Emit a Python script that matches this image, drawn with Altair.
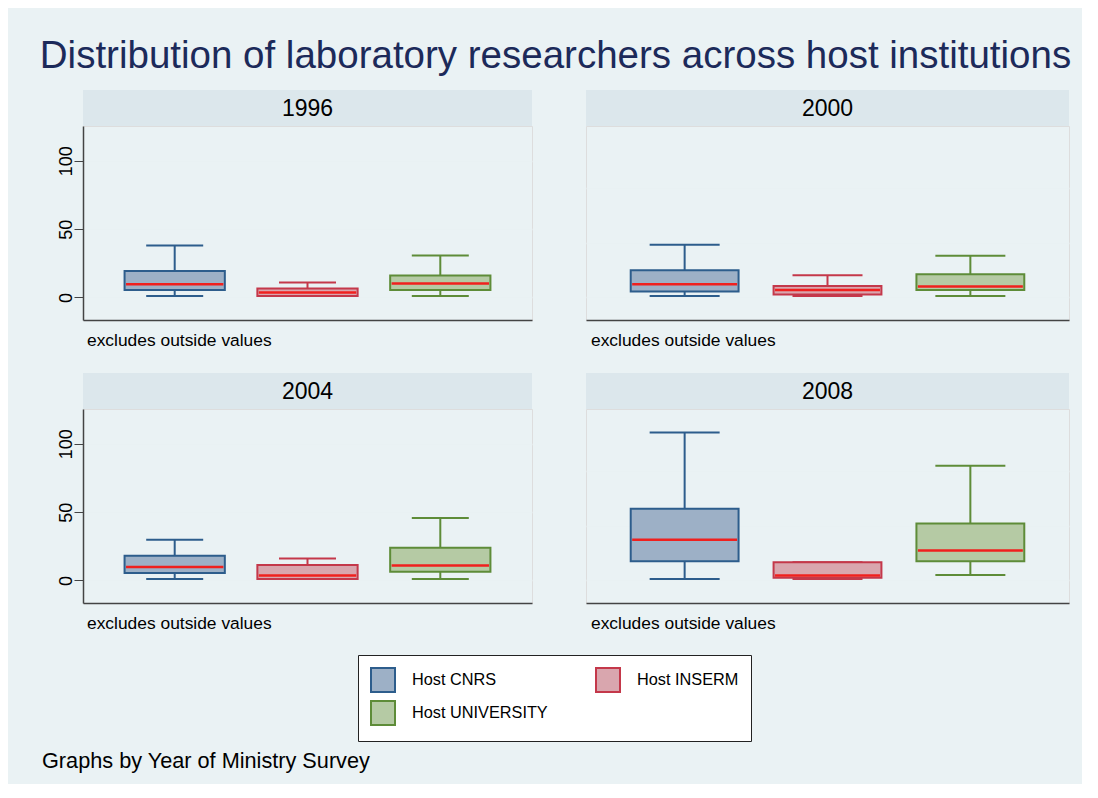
import altair as alt
import pandas as pd

years = ["1996", "2000", "2004", "2008"]
institutions = ["Host CNRS", "Host INSERM", "Host UNIVERSITY"]
# legend reading order (laid out column by column in two columns)
legend_order = ["Host CNRS", "Host UNIVERSITY", "Host INSERM"]

# box-plot statistics, one list per year (CNRS, INSERM, UNIVERSITY)
lower_whisker = {"1996": [1, 1, 1], "2000": [1, 1, 1], "2004": [1, 1, 1], "2008": [1, 1, 4]}
quartile1 = {"1996": [5.4, 1, 5.4], "2000": [4.4, 2.2, 5.4], "2004": [5.4, 1, 6.4], "2008": [14, 2, 14]}
medians = {"1996": [9.6, 3.7, 10.3], "2000": [9.6, 5.4, 8.1], "2004": [9.8, 3.7, 11], "2008": [29.8, 3.7, 22]}
quartile3 = {"1996": [19.4, 6.6, 16], "2000": [20, 8.3, 17], "2004": [18, 11.3, 23.9], "2008": [52.4, 13.3, 41.6]}
upper_whisker = {"1996": [38, 11, 30.7], "2000": [38.6, 16.2, 30.5], "2004": [29.8, 16, 45.8], "2008": [108.3, 13.3, 84]}

left_ticks = [0, 50, 100]
right_grid = [0, 20, 40, 60, 80, 100]
y_domain = [-16.5, 125.5]

TITLE = "Distribution of laboratory researchers across host institutions"
NOTE = "excludes outside values"
FOOT = "Graphs by Year of Ministry Survey"

FILL_OF = {"Host CNRS": "#9DB0C6", "Host INSERM": "#D9A6AE", "Host UNIVERSITY": "#B5CAA4"}
STROKE_OF = {"Host CNRS": "#2D5D8C", "Host INSERM": "#C4384A", "Host UNIVERSITY": "#5E8C38"}
RED = "#F0201E"
BG = "#EAF2F4"
HEAD = "#DCE7EC"
GRID = "#E9F1F3"
AX = "#444444"
FONT = "Liberation Sans"

W_L, W_R, H = 449, 483, 194
HEAD_H = 36

LEG = alt.Legend(
    title=None, orient="none", legendX=275, legendY=529, columns=2,
    symbolType="square", symbolSize=576, symbolStrokeWidth=2, symbolOpacity=1,
    labelFontSize=16.3, labelFont=FONT, labelColor="black", labelOffset=16,
    rowPadding=1, columnPadding=44, padding=12,
    strokeColor="#222222", fillColor="white",
)


def panel(year, left, footnote=False):
    w = W_L if left else W_R
    cap = 57 if left else 70
    df = pd.DataFrame({
        "inst": institutions,
        "line": institutions,
        "lo": lower_whisker[year],
        "q1": quartile1[year],
        "med": medians[year],
        "q3": quartile3[year],
        "hi": upper_whisker[year],
    })
    yscale = alt.Scale(domain=y_domain, nice=False, zero=False)
    if left:
        yaxis = alt.Axis(title=None, values=left_ticks, labelAngle=270, labelAlign="center",
                         labelBaseline="alphabetic", labelFontSize=18, labelFont=FONT,
                         labelColor="black", labelPadding=3, tickSize=9, tickColor=AX,
                         domainColor=AX, domainWidth=1.5, gridColor=GRID, gridWidth=1.5)
    else:
        yaxis = alt.Axis(title=None, values=right_grid, labels=False, ticks=False,
                         domain=False, gridColor=GRID, gridWidth=1.5)
    xenc = alt.X("inst:N", sort=institutions,
                 scale=alt.Scale(domain=institutions, paddingInner=0.245, paddingOuter=0.313),
                 axis=alt.Axis(title=None, labels=False, ticks=False, grid=False,
                               domainColor=AX, domainWidth=1.5))
    fill = alt.Fill("inst:N", legend=LEG, scale=alt.Scale(
        domain=legend_order, range=[FILL_OF[k] for k in legend_order]))
    stroke = alt.Stroke("inst:N", legend=LEG, scale=alt.Scale(
        domain=legend_order, range=[STROKE_OF[k] for k in legend_order]))
    color = alt.Color("line:N", legend=None, scale=alt.Scale(
        domain=institutions, range=[STROKE_OF[k] for k in institutions]))

    base = alt.Chart(df).encode(x=xenc)
    w_hi = base.mark_rule(strokeWidth=2, opacity=1).encode(
        y=alt.Y("q3:Q", scale=yscale, axis=yaxis), y2="hi:Q", color=color)
    w_lo = base.mark_rule(strokeWidth=2, opacity=1).encode(
        y=alt.Y("lo:Q", scale=yscale), y2="q1:Q", color=color)
    cap_hi = base.mark_tick(size=cap, thickness=2, opacity=1).encode(
        y=alt.Y("hi:Q", scale=yscale), color=color)
    cap_lo = base.mark_tick(size=cap, thickness=2, opacity=1).encode(
        y=alt.Y("lo:Q", scale=yscale), color=color)
    box = base.mark_bar(strokeWidth=2, opacity=1).encode(
        y=alt.Y("q1:Q", scale=yscale), y2="q3:Q", fill=fill, stroke=stroke)
    med = base.mark_tick(size=w * 0.2235 - 3, thickness=2.5, color=RED, opacity=1).encode(
        y=alt.Y("med:Q", scale=yscale))

    hdf = pd.DataFrame({"t": [year]})
    head_rect = alt.Chart(hdf).mark_rect(color=HEAD).encode(
        x=alt.value(0), x2=alt.value(w), y=alt.value(-HEAD_H), y2=alt.value(0))
    head_text = alt.Chart(hdf).mark_text(fontSize=23, font=FONT, color="black",
                                         baseline="middle", align="center").encode(
        x=alt.value(w / 2), y=alt.value(-HEAD_H / 2 + 1), text="t:N")
    note = alt.Chart(pd.DataFrame({"t": [NOTE]})).mark_text(
        fontSize=17.4, font=FONT, color="black", align="left", baseline="middle").encode(
        x=alt.value(4 if left else 5), y=alt.value(H + 21), text="t:N")
    layers = [head_rect, head_text, w_hi, w_lo, cap_hi, cap_lo, box, med, note]
    if footnote:
        foot = alt.Chart(pd.DataFrame({"t": [FOOT]})).mark_text(
            fontSize=21.7, font=FONT, color="black", align="left", baseline="middle").encode(
            x=alt.value(-41), y=alt.value(352), text="t:N")
        layers.append(foot)
    return alt.layer(*layers).properties(width=w, height=H)


chart = alt.concat(
    panel("1996", True), panel("2000", False),
    panel("2004", True, footnote=True), panel("2008", False),
    columns=2, spacing={"row": 89, "column": 54}, bounds="flush",
).properties(
    title=alt.TitleParams(TITLE, fontSize=38.5, font=FONT, fontWeight="normal",
                          color="#1C2A5A", anchor="middle", offset=13),
    padding={"left": 31, "top": 29, "right": 10, "bottom": 10},
    background=BG,
).configure_view(fill="white", strokeWidth=0).configure(font=FONT)

chart.save("out.html", embed_options={"renderer": "svg", "actions": False})
